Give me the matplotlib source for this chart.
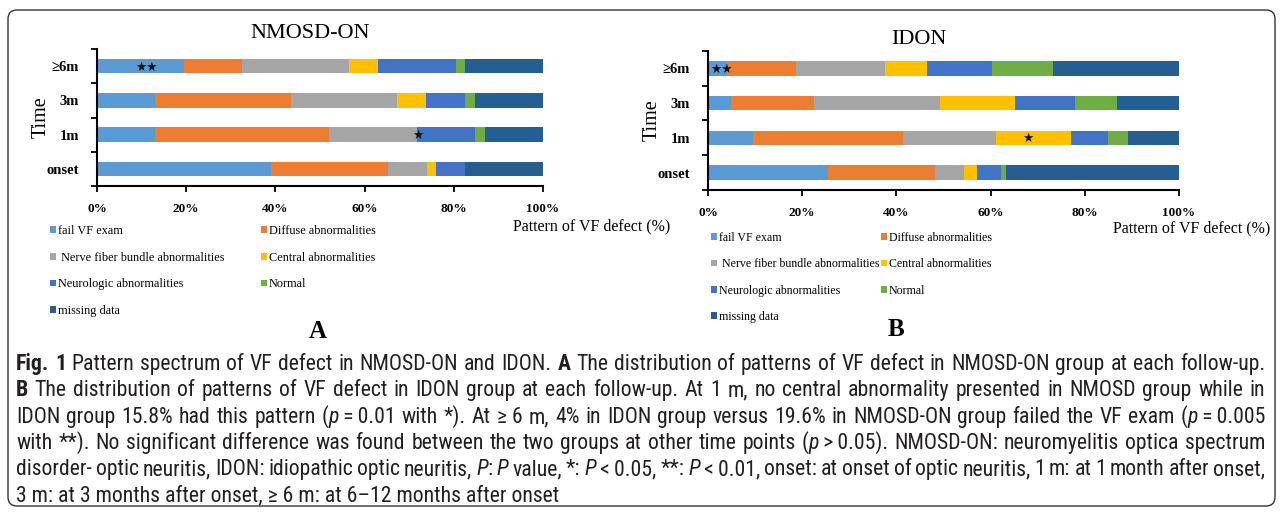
import matplotlib
matplotlib.use('Agg')
import matplotlib.pyplot as plt
import numpy as np
from matplotlib.patches import FancyBboxPatch
from matplotlib.transforms import IdentityTransform
from matplotlib import font_manager as fm

# ---------------- data ----------------
time_labels = ['onset', '1m', '3m', '≥6m']
categories = ['fail VF exam', 'Diffuse abnormalities', ' Nerve fiber bundle abnormalities',
              'Central abnormalities', 'Neurologic abnormalities', 'Normal', 'missing data']
colors = ['#5B9BD5', '#ED7D31', '#A5A5A5', '#FFC000', '#4472C4', '#70AD47', '#255E91']

# NMOSD-ON (%), order: onset, 1m, 3m, >=6m
nm_fail = [39.1, 13.0, 13.0, 19.6]
nm_diffuse = [26.1, 39.1, 30.4, 13.0]
nm_nerve = [8.7, 19.6, 23.9, 23.9]
nm_central = [2.2, 0.0, 6.5, 6.5]
nm_neuro = [6.5, 13.0, 8.7, 17.4]
nm_normal = [0.0, 2.2, 2.2, 2.2]
nm_missing = [17.4, 13.0, 15.2, 17.4]

# IDON (%)
id_fail = [25.4, 9.5, 4.8, 4.0]
id_diffuse = [22.9, 31.9, 17.8, 14.7]
id_nerve = [6.0, 19.8, 26.7, 18.8]
id_central = [2.9, 15.8, 15.9, 8.9]
id_neuro = [5.1, 7.9, 12.8, 14.0]
id_normal = [1.0, 4.2, 8.9, 12.9]
id_missing = [36.7, 10.9, 13.1, 26.7]

x_ticks = [0, 20, 40, 60, 80, 100]
x_ticklabels = ['0%', '20%', '40%', '60%', '80%', '100%']

# significance markers: (x in %, row index, text)
nm_marks = [(11.0, 3, '★★'), (72.0, 1, '★')]
id_marks = [(2.8, 3, '★★'), (68.0, 1, '★')]

# ---------------- layout helpers ----------------
W, H = 1281, 513
fig = plt.figure(figsize=(W / 100, H / 100), dpi=100)
fig.patch.set_facecolor('white')


def fx(px):
    return px / W


def fy(py):
    return 1 - py / H


SERIF = ['Liberation Serif', 'DejaVu Serif']


def panel(x0, x1, ytop, ybot, series, marks):
    ax = fig.add_axes([fx(x0), fy(ybot), (x1 - x0) / W, (ybot - ytop) / H])
    ypos = np.arange(len(time_labels))
    left = np.zeros(len(time_labels))
    handles = []
    for vals, col, lab in zip(series, colors, categories):
        h = ax.barh(ypos, vals, left=left, height=0.42, color=col, label=lab,
                    edgecolor='none')
        left = left + np.asarray(vals)
        handles.append(h)
    ax.set_xlim(0, 100)
    ax.set_ylim(-0.5, 3.5)
    for s in ['top', 'right']:
        ax.spines[s].set_visible(False)
    for s in ['left', 'bottom']:
        ax.spines[s].set_linewidth(1.5)
    ax.set_xticks(x_ticks)
    ax.set_xticklabels(x_ticklabels, fontweight='bold', family=SERIF, fontsize=9.5)
    ax.tick_params(axis='x', length=4, width=1.3, pad=8)
    ax.set_yticks(ypos)
    ax.set_yticklabels(time_labels, fontweight='bold', family=SERIF, fontsize=10.5)
    ax.set_yticks(np.arange(-0.5, 4.0, 1.0), minor=True)
    ax.tick_params(axis='y', which='major', length=0, pad=13)
    ax.tick_params(axis='y', which='minor', length=4, width=1.3)
    for xm, row, txt in marks:
        ax.text(xm, row - 0.03, txt, ha='center', va='center', fontsize=9,
                family='DejaVu Sans', color='#111111')
    return ax, handles


nm_series = [nm_fail, nm_diffuse, nm_nerve, nm_central, nm_neuro, nm_normal, nm_missing]
id_series = [id_fail, id_diffuse, id_nerve, id_central, id_neuro, id_normal, id_missing]

ax1, h1 = panel(97, 543, 49, 186, nm_series, nm_marks)
ax2, h2 = panel(708, 1179, 51, 190, id_series, id_marks)

# titles
fig.text(fx(310), fy(33), 'NMOSD-ON', ha='center', va='center', family=SERIF, fontsize=16)
fig.text(fx(919), fy(40), 'IDON', ha='center', va='center', family=SERIF, fontsize=16)

# y labels
fig.text(fx(41), fy(117), 'Time', rotation=90, ha='center', va='center', family=SERIF, fontsize=14.5)
fig.text(fx(652), fy(120), 'Time', rotation=90, ha='center', va='center', family=SERIF, fontsize=14.5)

# x labels
fig.text(fx(513), fy(226), 'Pattern of VF defect (%)', ha='left', va='center', family=SERIF, fontsize=11.5)
fig.text(fx(1113), fy(228), 'Pattern of VF defect (%)', ha='left', va='center', family=SERIF, fontsize=11.5)

# legends (row-major like the original: two columns)
col1 = [0, 2, 4, 6]
col2 = [1, 3, 5]


def add_leg(handles, idx, x, ytop, size):
    leg = fig.legend([handles[i] for i in idx], [categories[i] for i in idx],
                     loc='upper left', bbox_to_anchor=(fx(x), fy(ytop)),
                     frameon=False, borderpad=0, borderaxespad=0,
                     handlelength=0.5, handleheight=0.5, handletextpad=0.15,
                     labelspacing=1.2, prop={'family': SERIF, 'size': size})
    return leg


add_leg(h1, col1, 50, 225, 8.8)
add_leg(h1, col2, 261, 225, 8.8)
add_leg(h2, col1, 711, 232, 8.6)
add_leg(h2, col2, 881, 232, 8.6)

fig.text(fx(318), fy(331), 'A', ha='center', va='center', family=SERIF, fontsize=18, fontweight='bold')
fig.text(fx(896), fy(329), 'B', ha='center', va='center', family=SERIF, fontsize=18, fontweight='bold')

# ---------------- caption ----------------
names = {f.name for f in fm.fontManager.ttflist}
cap_family = 'DejaVu Sans'
for cand in ['Roboto Condensed', 'Liberation Sans Narrow', 'Open Sans Condensed', 'Noto Sans', 'Open Sans']:
    if cand in names:
        cap_family = cand
        break

caption = [
    [('Fig. 1', 'b'), ('  Pattern spectrum of VF defect in NMOSD-ON and IDON. ', 'n'), ('A', 'b'),
     (' The distribution of patterns of VF defect in NMOSD-ON group at each follow-up.', 'n')],
    [('B', 'b'), (' The distribution of patterns of VF defect in IDON group at each follow-up. At 1 m, no central abnormality presented in NMOSD group while in', 'n')],
    [('IDON group 15.8% had this pattern (', 'n'), ('p', 'i'), ('\u2009=\u20090.01 with *). At \u2265 6 m, 4% in IDON group versus 19.6% in NMOSD-ON group failed the VF exam (', 'n'), ('p', 'i'), ('\u2009=\u20090.005', 'n')],
    [('with **). No significant difference was found between the two groups at other time points (', 'n'), ('p', 'i'), ('\u2009>\u20090.05). NMOSD-ON: neuromyelitis optica spectrum', 'n')],
    [('disorder- optic neuritis, IDON: idiopathic optic neuritis, ', 'n'), ('P', 'i'), (': ', 'n'), ('P', 'i'), (' value, *: ', 'n'), ('P', 'i'), ('\u2009<\u20090.05, **: ', 'n'), ('P', 'i'), ('\u2009<\u20090.01, onset: at onset of optic neuritis, 1 m: at 1 month after onset,', 'n')],
    [('3 m: at 3 months after onset, \u2265 6 m: at 6\u201312 months after onset', 'n')],
]
cap_y = [370, 396, 423, 449, 475, 501]
X0, X1 = 16, 1265

renderer = fig.canvas.get_renderer()


def style_kw(st, size):
    return dict(fontsize=size, family=[cap_family, 'DejaVu Sans'],
                fontweight='bold' if st == 'b' else 'normal',
                fontstyle='italic' if st == 'i' else 'normal', color='#231f20')


def tw(s, st, size):
    t = fig.text(0, 0, s, **style_kw(st, size))
    w = t.get_window_extent(renderer).width
    t.remove()
    return w


def words_of(line):
    words = [[]]
    for text, st in line:
        parts = text.split(' ')
        for i, p in enumerate(parts):
            if i > 0:
                words.append([])
            if p:
                words[-1].append((p, st))
    return [w for w in words if w]


base = 12.0
wl = words_of(caption[0])
sp = tw('a a', 'n', base) - tw('aa', 'n', base)
nat = sum(tw(p, s, base) for w in wl for p, s in w) + sp * (len(wl) - 1)
size = base * (X1 - X0) / nat * 0.985

for li, line in enumerate(caption):
    ybase = round(cap_y[li])
    if li == len(caption) - 1:
        x = X0
        for text, st in line:
            fig.text(fx(x), fy(ybase), text, ha='left', va='baseline', **style_kw(st, size))
            x += tw(text.replace(' ', '\u00a0'), st, size)
        continue
    wl = words_of(line)
    widths = [[tw(p, s, size) for p, s in w] for w in wl]
    tot = sum(sum(ws) for ws in widths)
    gap = (X1 - X0 - tot) / (len(wl) - 1)
    x = X0
    for w, ws in zip(wl, widths):
        for (p, s), pw in zip(w, ws):
            fig.text(fx(x), fy(ybase), p, ha='left', va='baseline', **style_kw(s, size))
            x += pw
        x += gap

# border
border = FancyBboxPatch((8, H - 506), 1267, 496, boxstyle='round,pad=0,rounding_size=9',
                        transform=IdentityTransform(), fill=False, ec='#333333', lw=1.0)
fig.patches.append(border)

fig.savefig('out.png', dpi=100, facecolor='white')
